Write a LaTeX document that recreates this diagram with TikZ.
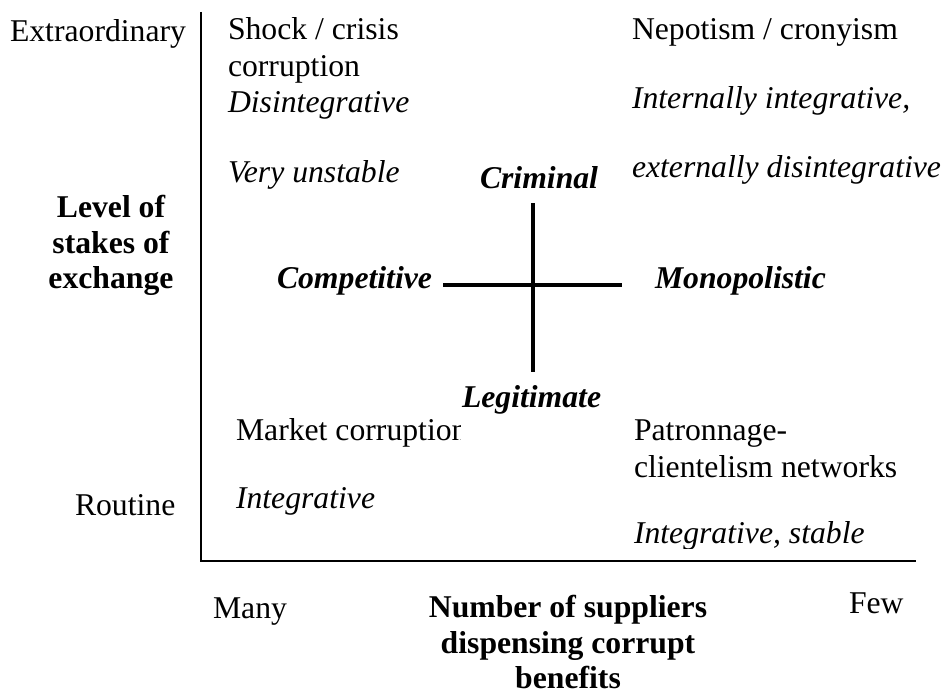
\documentclass[tikz,border=0pt]{standalone}
\usepackage{fontspec}
\setmainfont{Liberation Serif}
\tikzset{
  txt/.style={inner sep=0pt, outer sep=0pt, anchor=base west, font=\fontsize{31.7}{37}\selectfont},
  itxt/.style={txt, font=\fontsize{31.7}{37}\selectfont\itshape},
  btxt/.style={txt, anchor=base, font=\fontsize{31.7}{37}\selectfont\bfseries},
  bitxt/.style={txt, font=\fontsize{31.7}{37}\selectfont\bfseries\itshape},
  axisline/.style={line width=2.2pt},
  crossline/.style={line width=4.5pt}
}
\begin{document}
\begin{tikzpicture}[x=1pt,y=-1pt]
\useasboundingbox (0,0) rectangle (946,693);
% axes
\coordinate (atop) at (201,12);
\coordinate (aorig) at (201,561);
\coordinate (aright) at (916,561);
\draw[axisline] (atop) -- (aorig) -- (aright);
% cross
\coordinate (ctop) at (533,203);
\coordinate (cbot) at (533,372);
\coordinate (cleft) at (443,285);
\coordinate (cright) at (622,285);
\draw[crossline] (ctop) -- (cbot);
\draw[crossline] (cleft) -- (cright);
% y-axis labels
\node[txt] (extra) at (10,42) {Extraordinary};
\node[txt] (routine) at (75,515) {Routine};
\node[btxt] (lvl1) at (111,217) {Level of};
\node[btxt] (lvl2) at (111,253) {stakes of};
\node[btxt] (lvl3) at (111,288) {exchange};
% top-left quadrant
\node[txt] (shock1) at (228,40) {Shock / crisis};
\node[txt] (shock2) at (228,77) {corruption};
\node[itxt] (disint) at (228,113) {Disintegrative};
\node[itxt] (unst) at (228,182) {Very unstable};
% top-right quadrant
\node[txt] (nepo) at (632,40) {Nepotism / cronyism};
\node[itxt] (intern) at (632,108) {Internally integrative,};
\node[itxt] (extern) at (632,177) {externally disintegrative};
% cross labels
\node[bitxt] (crim) at (480,188) {Criminal};
\node[bitxt] (legit) at (462,407) {Legitimate};
\node[bitxt] (comp) at (277,288) {Competitive};
\node[bitxt] (mono) at (655,288) {Monopolistic};
% bottom-left quadrant
\begin{scope}
\clip (210,400) rectangle (460,460);
\node[txt] (market) at (236,440) {Market corruption};
\end{scope}
\node[itxt] (integ) at (236,508) {Integrative};
% bottom-right quadrant
\node[txt] (patr1) at (634,440) {Patronnage-};
\node[txt] (patr2) at (634,477) {clientelism networks};
\begin{scope}
\clip (620,510) rectangle (920,548);
\node[itxt] (integst) at (634,543) {Integrative, stable};
\end{scope}
% x-axis labels
\node[txt] (many) at (213,618) {Many};
\node[txt] (few) at (849,613) {Few};
\node[btxt] (num1) at (568,617) {Number of suppliers};
\node[btxt] (num2) at (568,653) {dispensing corrupt};
\node[btxt] (num3) at (568,688) {benefits};
\end{tikzpicture}
\end{document}
